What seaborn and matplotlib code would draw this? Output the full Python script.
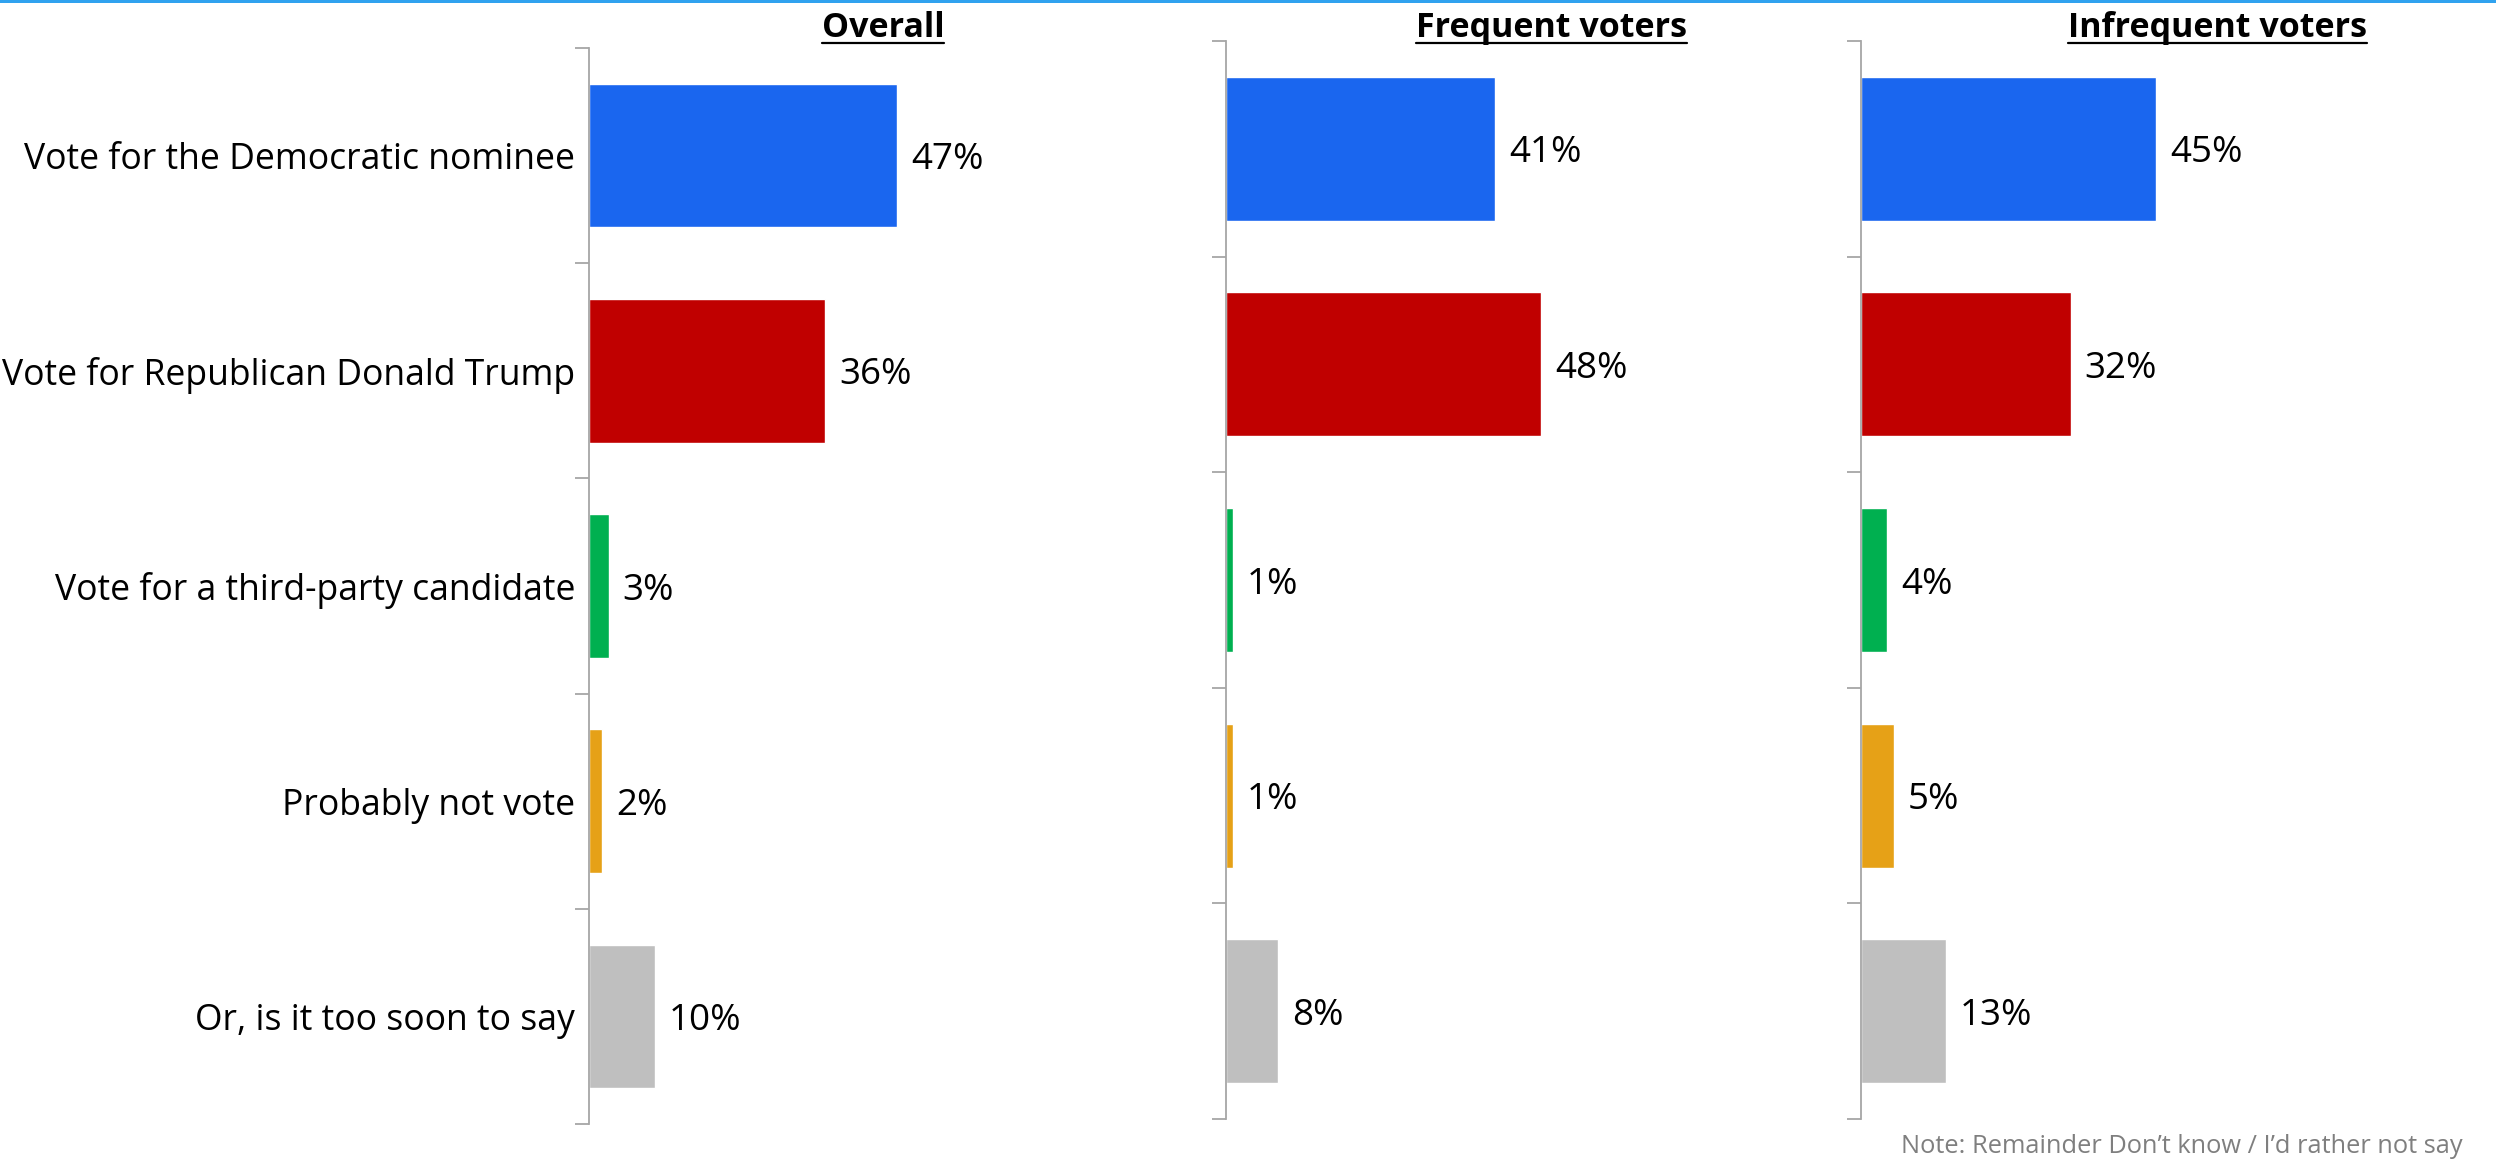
import matplotlib
matplotlib.use("Agg")
import matplotlib.pyplot as plt
from matplotlib.lines import Line2D
from matplotlib.patches import Rectangle
import seaborn as sns
import pandas as pd

# ---- data -------------------------------------------------------------
categories = [
    "Vote for the Democratic nominee",
    "Vote for Republican Donald Trump",
    "Vote for a third-party candidate",
    "Probably not vote",
    "Or, is it too soon to say",
]
panels = ["Overall", "Frequent voters", "Infrequent voters"]
overall = [47, 36, 3, 2, 10]
frequent = [41, 48, 1, 1, 8]
infrequent = [45, 32, 4, 5, 13]
colors = ["#1A66EF", "#C00000", "#00B050", "#E6A117", "#BFBFBF"]
note = "Note: Remainder Don\u2019t know / I\u2019d rather not say"

df = pd.DataFrame({
    "panel": [p for p in panels for _ in categories],
    "category": categories * len(panels),
    "value": overall + frequent + infrequent,
})

# ---- style ------------------------------------------------------------
sns.set_theme(style="white")
plt.rcParams["font.family"] = ["Open Sans", "DejaVu Sans"]

W, H = 2496, 1161
fig = plt.figure(figsize=(W / 100, H / 100), dpi=100)

# accent rule along the top edge
fig.add_artist(Rectangle((0, 1 - 3 / H), 1, 3 / H, transform=fig.transFigure,
                         color="#30A2EF", lw=0))

# panel geometry in pixels: axis x, top, bottom, title centre
layout = [
    (589, 48, 1124, 883),
    (1226, 41, 1119, 1551),
    (1861, 41, 1119, 2217),
]
AX_W = 600
PX_PER_PCT = 6.56
AXIS_GREY = "#A6A6A6"
CAT_SIZE = 25.6
VAL_SIZE = 26.5

titles = []
for i, (panel, (x0, top, bot, tcx)) in enumerate(zip(panels, layout)):
    ax = fig.add_axes([x0 / W, 1 - bot / H, AX_W / W, (bot - top) / H])
    sub = df[df["panel"] == panel]
    sns.barplot(data=sub, x="value", y="category", hue="category",
                order=categories, hue_order=categories, palette=colors,
                saturation=1, width=0.667, legend=False, orient="h", ax=ax)

    ax.set_xlim(0, AX_W / PX_PER_PCT)
    ax.set_ylim(len(categories) - 0.5, -0.5)
    ax.set_xlabel("")
    ax.set_ylabel("")
    ax.set_xticks([])
    for s in ("top", "right", "bottom"):
        ax.spines[s].set_visible(False)
    ax.spines["left"].set_color(AXIS_GREY)
    ax.spines["left"].set_linewidth(1.3)

    ax.set_yticks(range(len(categories)))
    if i == 0:
        ax.set_yticklabels(categories, fontsize=CAT_SIZE, color="#000000")
    else:
        ax.set_yticklabels([])
    ax.tick_params(axis="y", which="major", length=0, pad=10)
    ax.set_yticks([k - 0.5 for k in range(len(categories) + 1)], minor=True)
    ax.tick_params(axis="y", which="minor", left=True, length=10,
                   width=1.3, color=AXIS_GREY)

    for cont in ax.containers:
        labels = ax.bar_label(cont, fmt=lambda v: f"{v:.0f}%", padding=10,
                              fontsize=VAL_SIZE, color="#000000")
        for lab in labels:
            lab.set_va("center_baseline")

    t = fig.text(tcx / W, 1 - 37 / H, panel, ha="center", va="baseline",
                 fontsize=24.5, fontweight="bold", color="#000000")
    titles.append(t)

fig.text(2463 / W, 1 - 1153 / H, note, ha="right", va="baseline",
         fontsize=18.3, color="#7F7F7F")

# underline each panel title
fig.canvas.draw()
renderer = fig.canvas.get_renderer()
for t in titles:
    bb = t.get_window_extent(renderer)
    y = (H - 43) / H
    fig.add_artist(Line2D([bb.x0 / W, bb.x1 / W], [y, y],
                          transform=fig.transFigure, color="#000000", lw=1.6))

fig.savefig("out.png", dpi=100)
